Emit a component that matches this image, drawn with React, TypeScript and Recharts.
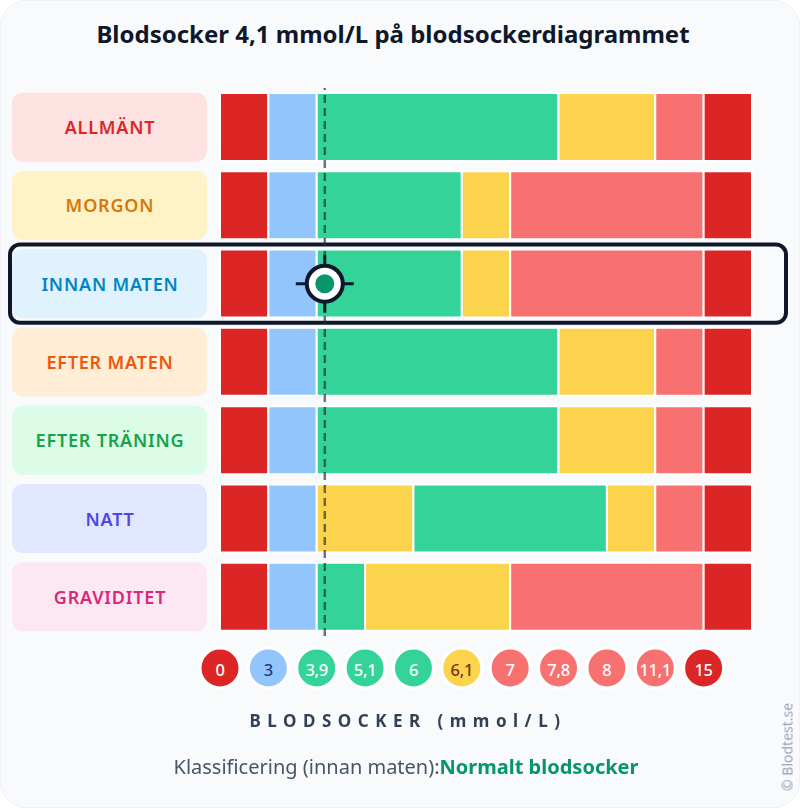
import React from "react"
import { BarChart, Bar, XAxis, YAxis, Cell, ReferenceLine, ReferenceDot, ReferenceArea } from "recharts"

// rader i diagrammet
const rowNames = ["ALLMÄNT", "MORGON", "INNAN MATEN", "EFTER MATEN", "EFTER TRÄNING", "NATT", "GRAVIDITET"]

// antal intervall per sammanhängande zon, per rad
const runLengths = [
  [1, 1, 5, 2, 1, 1],
  [1, 1, 3, 1, 4, 1],
  [1, 1, 3, 1, 4, 1],
  [1, 1, 5, 2, 1, 1],
  [1, 1, 5, 2, 1, 1],
  [1, 1, 2, 4, 1, 1, 1],
  [1, 1, 1, 3, 4, 1],
]
const runZones = [
  ["crit", "low", "normal", "raised", "high", "crit"],
  ["crit", "low", "normal", "raised", "high", "crit"],
  ["crit", "low", "normal", "raised", "high", "crit"],
  ["crit", "low", "normal", "raised", "high", "crit"],
  ["crit", "low", "normal", "raised", "high", "crit"],
  ["crit", "low", "raised", "normal", "raised", "high", "crit"],
  ["crit", "low", "normal", "raised", "high", "crit"],
]

// gränsvärden på x-axeln
const thresholds = [0, 3, 3.9, 5.1, 6, 6.1, 7, 7.8, 8, 11.1, 15]
const tickLabels = ["0", "3", "3,9", "5,1", "6", "6,1", "7", "7,8", "8", "11,1", "15"]
const tickZones = ["crit", "low", "normal", "normal", "normal", "raised", "high", "high", "high", "high", "crit"]

const labelColors = ["#dc2626", "#d97706", "#0284c7", "#ea580c", "#16a34a", "#4f46e5", "#db2777"]
const labelBgs = ["#fee2e2", "#fef3c7", "#e0f2fe", "#ffedd5", "#dcfce7", "#e0e7ff", "#fce7f3"]

const zoneColor: Record<string, string> = {
  crit: "#dc2626",
  low: "#93c5fd",
  normal: "#34d399",
  raised: "#fcd34d",
  high: "#f87171",
}
const zoneText: Record<string, string> = {
  crit: "#ffffff",
  low: "#1e3a8a",
  normal: "#ffffff",
  raised: "#78350f",
  high: "#ffffff",
}

const measured = 4.1
const selectedRow = "INNAN MATEN"

const FONT = "'Noto Sans', sans-serif"
const maxRuns = Math.max(...runLengths.map((r) => r.length))

const data = rowNames.map((name, i) => {
  const row: Record<string, any> = { name }
  for (let j = 0; j < maxRuns; j++) row[`r${j}`] = runLengths[i][j] ?? 0
  return row
})

// omvandla mmol/L till position på den kategoriska skalan
function toPos(v: number) {
  for (let i = 0; i < thresholds.length - 1; i++) {
    if (v >= thresholds[i] && v < thresholds[i + 1]) {
      return i + (v - thresholds[i]) / (thresholds[i + 1] - thresholds[i])
    }
  }
  return thresholds.length - 1
}
const markerPos = toPos(measured)

function RowLabel(props: any) {
  const { x, y, payload } = props
  const i = rowNames.indexOf(payload.value)
  return (
    <g>
      <rect x={x - 208} y={y - 34.5} width={195} height={69} rx={11} fill={labelBgs[i]} />
      <text x={x - 110} y={y} textAnchor="middle" dominantBaseline="central" fill={labelColors[i]}
        fontFamily={FONT} fontSize={18} fontWeight={600} letterSpacing={0.8}>
        {payload.value}
      </text>
    </g>
  )
}

function ValueTick(props: any) {
  const { x, y, payload } = props
  const i = payload.value
  const zone = tickZones[i]
  return (
    <g>
      <circle cx={x} cy={y + 32} r={20} fill={zoneColor[zone]} stroke="#ffffff" strokeWidth={3} />
      <text x={x} y={y + 33} textAnchor="middle" dominantBaseline="central" fill={zoneText[zone]}
        fontFamily={FONT} fontSize={16.5} fontWeight={500} letterSpacing={-0.3}>
        {tickLabels[i]}
      </text>
    </g>
  )
}

function Marker(props: any) {
  const { cx, cy } = props
  return (
    <g>
      <line x1={cx - 29} x2={cx + 29} y1={cy} y2={cy} stroke="#0f172a" strokeWidth={3} />
      <line x1={cx} x2={cx} y1={cy - 29} y2={cy + 29} stroke="#0f172a" strokeWidth={3} />
      <circle cx={cx} cy={cy} r={18} fill="#ffffff" stroke="#0f172a" strokeWidth={4} />
      <circle cx={cx} cy={cy} r={9.5} fill="#059669" />
    </g>
  )
}

function Highlight(props: any) {
  const { x, y, width, height } = props
  return (
    <rect x={x - 210} y={y} width={width + 244} height={height} rx={10}
      fill="none" stroke="#0f172a" strokeWidth={4} />
  )
}

export default function App() {
  return (
    <div style={{ position: "fixed", left: 0, top: 0, width: 800, height: 808, background: "#ffffff" }}>
      <div style={{ position: "absolute", inset: 0, background: "#f8fafc", borderRadius: 26, border: "1px solid #eef1f5", boxSizing: "border-box" }} />
      <div style={{ position: "absolute", top: 17, left: 0, width: 786, textAlign: "center", fontFamily: FONT,
        fontSize: 24, fontWeight: 700, color: "#0f172a" }}>
        Blodsocker 4,1 mmol/L på blodsockerdiagrammet
      </div>
      <div style={{ position: "absolute", top: 0, left: 0 }}>
        <BarChart width={800} height={808} data={data} layout="vertical"
          margin={{ top: 88, right: 48, bottom: 112, left: 0 }} barCategoryGap={0}>
          <XAxis type="number" domain={[0, 11]} ticks={tickLabels.map((_, i) => i)} interval={0}
            height={60} axisLine={false} tickLine={false} tickSize={0} tickMargin={0} tick={<ValueTick />} />
          <YAxis type="category" dataKey="name" width={220} axisLine={false} tickLine={false}
            tickSize={0} tickMargin={0} tick={<RowLabel />} />
          {Array.from({ length: maxRuns }, (_, j) => (
            <Bar key={j} dataKey={`r${j}`} stackId="zones" barSize={68} stroke="#ffffff" strokeWidth={2}
              isAnimationActive={false}>
              {data.map((_, i) => (
                <Cell key={i} fill={runZones[i][j] ? zoneColor[runZones[i][j]] : "none"} />
              ))}
            </Bar>
          ))}
          <ReferenceLine x={markerPos} stroke="#1f2937" strokeOpacity={0.65} strokeWidth={2.5} strokeDasharray="8 5" />
          <ReferenceArea y1={selectedRow} y2={selectedRow} ifOverflow="visible" shape={<Highlight />} />
          <ReferenceDot x={markerPos} y={selectedRow} r={18} ifOverflow="visible" shape={<Marker />} />
        </BarChart>
      </div>
      <div style={{ position: "absolute", top: 709, left: 8, width: 800, textAlign: "center", fontFamily: FONT,
        fontSize: 17, fontWeight: 700, color: "#334155", letterSpacing: 6.5 }}>
        BLODSOCKER (mmol/L)
      </div>
      <div style={{ position: "absolute", top: 753, left: 6, width: 800, textAlign: "center", fontFamily: FONT,
        fontSize: 20, color: "#475569" }}>
        Klassificering (innan maten):<span style={{ color: "#059669", fontWeight: 700 }}>Normalt blodsocker</span>
      </div>
      <div style={{ position: "absolute", left: 787, top: 747, transform: "translate(-50%, -50%) rotate(-90deg)",
        fontFamily: FONT, fontSize: 14, color: "#94a3b8", whiteSpace: "nowrap" }}>
        © Blodtest.se
      </div>
    </div>
  )
}
